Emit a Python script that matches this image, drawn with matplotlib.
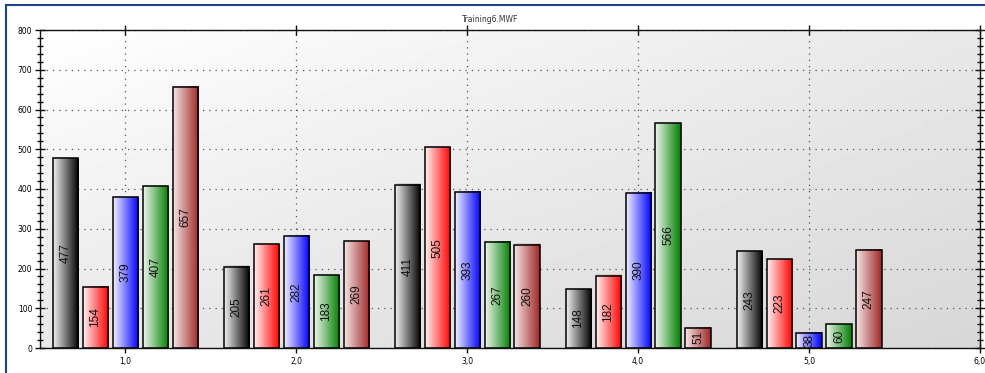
import matplotlib
matplotlib.use("Agg")
from matplotlib import pyplot as plt
from matplotlib.colors import LinearSegmentedColormap
from matplotlib.patches import Rectangle
from matplotlib.ticker import MultipleLocator, FixedLocator
import numpy as np

groups = [1, 2, 3, 4, 5]
black_vals = [477, 205, 411, 148, 243]
red_vals = [154, 261, 505, 182, 223]
blue_vals = [379, 282, 393, 390, 38]
green_vals = [407, 183, 267, 566, 60]
brown_vals = [657, 269, 260, 51, 247]
series = [black_vals, red_vals, blue_vals, green_vals, brown_vals]
# light -> dark end of each bar's gradient
grads = [("#f0f0f0", "#000000"), ("#fff0f0", "#ff0000"), ("#f0f0ff", "#0000ff"),
         ("#eef6ee", "#008000"), ("#f6e4e4", "#a02828")]
xtick_vals = [1, 2, 3, 4, 5, 6]
xtick_labels = ["1,0", "2,0", "3,0", "4,0", "5,0", "6,0"]

fig = plt.figure(figsize=(9.85, 3.73), dpi=100)
ax = fig.add_axes([40/985, 25/373, 940/985, 318/373])
ax.set_xlim(0.5, 6.0)
ax.set_ylim(0, 800)
ax.autoscale(False)

# background gradient
bg = np.array([[232, 215], [255, 232]]) / 255.0
yy, xx = np.mgrid[0:1:100j, 0:1:100j]
bgimg = (bg[0, 0]*(1-xx)*(1-yy) + bg[0, 1]*xx*(1-yy) + bg[1, 0]*(1-xx)*yy + bg[1, 1]*xx*yy)
ax.imshow(bgimg, extent=[0.5, 6.0, 0, 800], origin="lower", cmap="gray", vmin=0, vmax=1,
          aspect="auto", zorder=0)

ax.grid(True, which="major", linestyle=(0, (1, 4)), color="#555555", linewidth=0.9, zorder=1)

step = 0.175
width = 0.148
gx = np.linspace(0, 1, 64).reshape(1, -1)
for k, vals in enumerate(series):
    cmap = LinearSegmentedColormap.from_list("g%d" % k, grads[k])
    for g, v in zip(groups, vals):
        x0 = g + (k - 2) * step - width / 2
        # shadow
        ax.add_patch(Rectangle((x0 + 0.005, 0), width, v + 3, facecolor="#aaaaaa",
                               edgecolor="none", alpha=0.4, zorder=2))
        ax.imshow(gx, extent=[x0, x0 + width, 0, v], cmap=cmap, aspect="auto",
                  origin="lower", zorder=3)
        ax.add_patch(Rectangle((x0, 0), width, v, facecolor="none", edgecolor="#000000",
                               linewidth=1.1, zorder=4))
        ax.text(x0 + width / 2, v / 2, str(v), rotation=90, ha="center", va="center",
                fontsize=8.5, family="Liberation Sans", color="#111111", zorder=5)

ax.xaxis.set_major_locator(FixedLocator(xtick_vals))
ax.set_xticklabels(xtick_labels)
ax.yaxis.set_major_locator(MultipleLocator(100))
ax.yaxis.set_minor_locator(MultipleLocator(20))
ax.tick_params(axis="both", which="major", direction="inout", length=7, width=1,
               labelsize=5.5, top=True, right=True, color="#111111")
ax.tick_params(axis="y", which="minor", direction="inout", length=5, width=1,
               right=True, color="#111111")
ax.tick_params(axis="x", pad=3)
ax.tick_params(axis="y", pad=2)
for s in ax.spines.values():
    s.set_linewidth(1.0)
    s.set_color("#111111")

fig.text(490/985, 1 - 19/373, "Training6.MWF", ha="center", va="center", fontsize=5.5,
         color="#333333")

# outer blue frame
fig.add_artist(Rectangle((6/985, -0.02), 1.0, 1 - 5/373 + 0.02, transform=fig.transFigure,
                         facecolor="none", edgecolor="#1f3f8f", linewidth=1.5))

fig.savefig("out.png", dpi=100)
